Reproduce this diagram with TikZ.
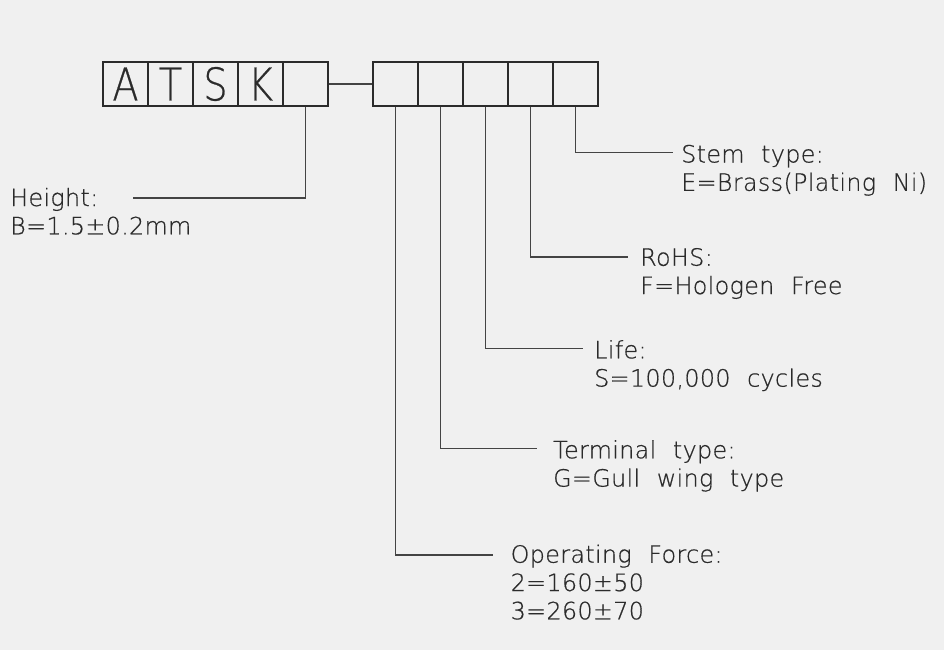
\documentclass[tikz,border=0pt]{standalone}
\usepackage{fontspec}
\IfFontExistsTF{DejaVu Sans ExtraLight}
  {\setmainfont{DejaVu Sans ExtraLight}[WordSpace=2.1, LetterSpace=1.5, FakeBold=0.6]}
  {\setmainfont{DejaVu Sans}[WordSpace=2.1, LetterSpace=1.5]}
\definecolor{bg}{HTML}{F0F0F0}
\definecolor{ink}{HTML}{2B2B2B}
\definecolor{wire}{HTML}{444444}
\tikzset{
  cell/.style={draw=ink, line width=1.4pt, minimum width=45pt, minimum height=44pt,
    inner sep=0pt, text=ink, font=\fontsize{45}{50}\selectfont},
  lbl/.style={anchor=base west, inner sep=0pt, text=ink,
    font=\fontsize{23.8}{28.3}\selectfont},
  wireline/.style={draw=wire, line width=1.3pt}
}
\newcommand{\narrowch}[1]{\scalebox{0.85}[1]{#1}}
\begin{document}
\begin{tikzpicture}[x=1pt, y=-1pt]
\fill[bg] (0,0) rectangle (944,650);
\useasboundingbox (0,0) rectangle (944,650);
% first group
\node[cell] (a1) at (125.5,84) {\narrowch{A}};
\node[cell] (a2) at (170.5,84) {\narrowch{T}};
\node[cell] (a3) at (215.5,84) {\narrowch{S}};
\node[cell] (a4) at (260.5,84) {\narrowch{K}};
\node[cell] (a5) at (305.5,84) {};
% second group
\node[cell] (b1) at (395.5,84) {};
\node[cell] (b2) at (440.5,84) {};
\node[cell] (b3) at (485.5,84) {};
\node[cell] (b4) at (530.5,84) {};
\node[cell] (b5) at (575.5,84) {};
\draw[wireline] (a5.east) -- (b1.west);
% line ends
\coordinate (hEnd) at (133,198);
\coordinate (sEnd) at (673,152.5);
\coordinate (rEnd) at (628,257);
\coordinate (lEnd) at (583,348.5);
\coordinate (tEnd) at (537,448.5);
\coordinate (oEnd) at (493,555);
\draw[wireline] (a5.south) |- (hEnd);
\draw[wireline] (b5.south) |- (sEnd);
\draw[wireline] (b4.south) |- (rEnd);
\draw[wireline] (b3.south) |- (lEnd);
\draw[wireline] (b2.south) |- (tEnd);
\draw[wireline] (b1.south) |- (oEnd);
% labels
\node[lbl] (hLbl) at (10,206) {\begin{tabular}[t]{@{}l@{}}Height:\\B=1.5±0.2mm\end{tabular}};
\node[lbl] (sLbl) at (681,162.5) {\begin{tabular}[t]{@{}l@{}}Stem type:\\E=Brass(Plating Ni)\end{tabular}};
\node[lbl] (rLbl) at (640,265.7) {\begin{tabular}[t]{@{}l@{}}RoHS:\\F=Hologen Free\end{tabular}};
\node[lbl] (lLbl) at (594,358.3) {\begin{tabular}[t]{@{}l@{}}Life:\\S=100,000 cycles\end{tabular}};
\node[lbl] (tLbl) at (553,458.3) {\begin{tabular}[t]{@{}l@{}}Terminal type:\\G=Gull wing type\end{tabular}};
\node[lbl] (oLbl) at (510.5,562.7) {\begin{tabular}[t]{@{}l@{}}Operating Force:\\2=160±50\\3=260±70\end{tabular}};
\end{tikzpicture}
\end{document}
